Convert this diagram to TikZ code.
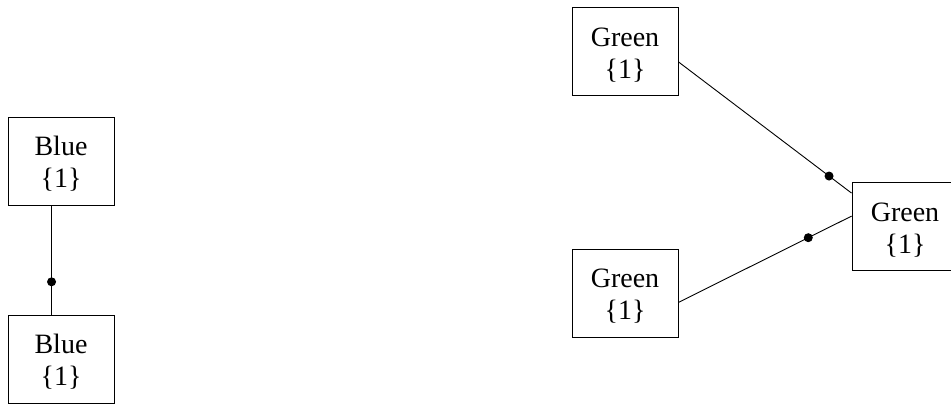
\documentclass[tikz,border=0pt]{standalone}
\usepackage{fontspec}
\setmainfont{Liberation Serif}
\newcommand{\boxtext}[1]{\rule{0pt}{25pt}#1\\\{1\}}
\begin{document}
\begin{tikzpicture}[x=1pt,y=-1pt,
  box/.style={draw,line width=0.9pt,rectangle,minimum width=106pt,minimum height=88pt,
    align=center,inner sep=0pt,font=\fontsize{28}{32}\selectfont},
  link/.style={draw,line width=0.9pt},
  dotmark/.style={circle,fill=black,inner sep=0pt,minimum size=9pt}]
\useasboundingbox (0,0) rectangle (951,404);
\clip (0,0) rectangle (951,404);
\node[box] (b1) at (61,161) {\boxtext{Blue}};
\node[box] (b2) at (61,359) {\boxtext{Blue}};
\node[box] (g1) at (625,51.5) {\boxtext{Green}};
\node[box] (g2) at (625,293) {\boxtext{Green}};
\node[box] (g3) at (905,226.5) {\boxtext{Green}};
\draw[link] (b1.-102) -- node[dotmark,pos=0.70] (d1) {} (b2.102);
\draw[link] (g1.-11) -- node[dotmark,pos=0.87] (d2) {} (g3.148);
\draw[link] (g2.-10) -- node[dotmark,pos=0.75] (d3) {} (g3.169);
\end{tikzpicture}
\end{document}
